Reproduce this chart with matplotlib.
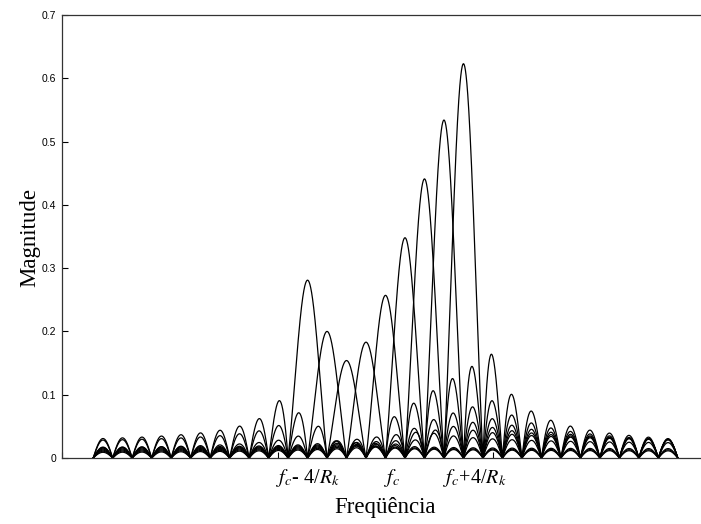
import numpy as np
import matplotlib
matplotlib.use("Agg")
import matplotlib.pyplot as plt

# tone offsets from f_c (in units of 1/R_k) and main-lobe peaks
offsets = [-4, -3, -2, -1, 0, 1, 2, 3, 4]
peaks = [0.281, 0.200, 0.154, 0.183, 0.257, 0.348, 0.441, 0.534, 0.623]
# side with the strong sidelobes (-1 = left, +1 = right) and the levels the sidelobes settle to
strong_side = [-1, -1, -1, 1, 1, 1, 1, 1, 1]
strong_floor = [0.021, 0.022, 0.012, 0.020, 0.023, 0.020, 0.016, 0.012, 0.009]
weak_floor = [0.010, 0.012, 0.014, 0.016, 0.014, 0.012, 0.010, 0.008, 0.006]
strong_gain = 0.365
weak_gain = 0.09

tick_labels = [r'$f_c$- 4/$R_k$', r'$f_c$', r'$f_c$+4/$R_k$']
tick_label_pos = [-4.0, 0.35, 4.6]

plt.rcParams['mathtext.fontset'] = 'stix'

fig = plt.figure(figsize=(7.01, 5.24), dpi=100)
ax = fig.add_axes([62 / 701, 66 / 524, 647 / 701, 443 / 524])

f = np.linspace(-15, 15, 6001)
for off, a, side, fs, fw in zip(offsets, peaks, strong_side, strong_floor, weak_floor):
    d = f - off
    strong = np.sign(d) == side
    env = np.where(strong, a * strong_gain / np.maximum(np.abs(d), 1) + fs,
                   a * weak_gain / np.maximum(np.abs(d), 1) + fw)
    y = np.where(np.abs(d) < 1, np.abs(a * np.sinc(d)), np.abs(np.sin(np.pi * d)) * env)
    ax.plot(f, y, color='black', lw=0.9)

xmin, xmax = -16.6, 16.6
ax.set_xlim(xmin, xmax)
ax.set_ylim(0, 0.7)
ax.set_xticks(np.linspace(xmin, xmax, 4))
ax.set_xticklabels([])
ax.set_yticks(np.arange(0, 0.71, 0.1))
ax.set_yticklabels(['0', '0.1', '0.2', '0.3', '0.4', '0.5', '0.6', '0.7'],
                   fontfamily='Liberation Sans', fontsize=7.5)
ax.tick_params(direction='in', length=4, width=0.8, pad=4)
for s in ax.spines.values():
    s.set_linewidth(0.9)
    s.set_color('#333333')

for lab, xp in zip(tick_labels, tick_label_pos):
    ax.text(xp, -0.045, lab, transform=ax.get_xaxis_transform(), ha='center', va='center',
            fontsize=14.5, family='Liberation Serif')

fig.text(385 / 701, 1 - 507 / 524, 'Freqüência', ha='center', va='center',
         fontsize=16.5, family='Liberation Serif')
fig.text(30 / 701, 1 - 238 / 524, 'Magnitude', ha='center', va='center', rotation=90,
         fontsize=16.5, family='Liberation Serif')

fig.savefig('out.png', dpi=100)
